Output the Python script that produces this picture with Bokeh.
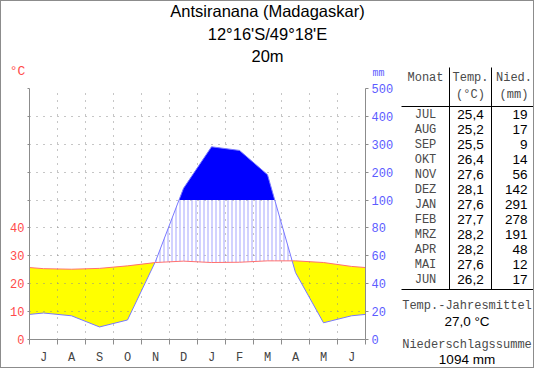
from bokeh.plotting import figure
from bokeh.layouts import row, column
from bokeh.models import Range1d, LinearAxis, FixedTicker
from bokeh.embed import file_html
from bokeh.resources import INLINE
from bokeh.core.properties import value

# ---------------- data ----------------
title_lines = ["Antsiranana (Madagaskar)", "12°16'S/49°18'E", "20m"]
months = ["JUL", "AUG", "SEP", "OKT", "NOV", "DEZ", "JAN", "FEB", "MRZ", "APR", "MAI", "JUN"]
month_letters = ["J", "A", "S", "O", "N", "D", "J", "F", "M", "A", "M", "J"]
temps = [25.4, 25.2, 25.5, 26.4, 27.6, 28.1, 27.6, 27.7, 28.2, 28.2, 27.6, 26.2]
precip = [19, 17, 9, 14, 56, 142, 291, 278, 191, 48, 12, 17]
temp_tick_labels = [0, 10, 20, 30, 40]
precip_tick_labels = [0, 20, 40, 60, 80, 100, 200, 300, 400, 500]

MONO = value("Liberation Mono")
SANS = value("Liberation Sans")
RED = "#ff4a4a"
BLUEL = "#5c5cff"
MONO_COLOR = "#4a4a4a"
GRAY = "#8c8c8c"


def scale_p(v):
    # Walter-Lieth: 20 mm = 10 degC up to 100 mm, above that 100 mm = 10 degC
    return v / 2.0 if v <= 100 else 50.0 + (v - 100) / 10.0


# extended (wrap-around) series, month centres at i+0.5
xs = [-0.5] + [i + 0.5 for i in range(12)] + [12.5]
t_ext = [temps[-1]] + temps + [temps[0]]
p_ext = [scale_p(v) for v in [precip[-1]] + precip + [precip[0]]]
LEVEL = scale_p(100)


def augment(x, a, b, level):
    X, A, B = [x[0]], [a[0]], [b[0]]
    for i in range(len(x) - 1):
        x0, x1, a0, a1, b0, b1 = x[i], x[i + 1], a[i], a[i + 1], b[i], b[i + 1]
        ts = []
        d0, d1 = a0 - b0, a1 - b1
        if d0 * d1 < 0:
            ts.append(d0 / (d0 - d1))
        e0, e1 = b0 - level, b1 - level
        if e0 * e1 < 0:
            ts.append(e0 / (e0 - e1))
        for t in sorted(ts):
            X.append(x0 + t * (x1 - x0))
            A.append(a0 + t * (a1 - a0))
            B.append(b0 + t * (b1 - b0))
        X.append(x1)
        A.append(a1)
        B.append(b1)
    return X, A, B


X, A, B = augment(xs, t_ext, p_ext, LEVEL)
arid_low = [min(a, b) for a, b in zip(A, B)]
humid_top = [max(a, min(b, LEVEL)) for a, b in zip(A, B)]
wet_top = [max(b, LEVEL) for b in B]
level_line = [LEVEL] * len(X)


def blank_fig(w, h):
    f = figure(width=w, height=h, x_range=Range1d(0, w), y_range=Range1d(h, 0),
               toolbar_location=None, output_backend="svg", min_border=0,
               x_axis_location=None, y_axis_location=None)
    f.grid.visible = False
    f.outline_line_color = None
    return f


# ---------------- title figure ----------------
tf = blank_fig(397, 80)
tf.text(x=[266, 266, 266], y=[9, 32, 54], text=title_lines, text_align="center",
        text_baseline="middle", text_font=SANS, text_font_size="16.5px", text_color="black")
tf.text(x=[16], y=[70], text=["°C"], text_align="center", text_baseline="middle",
        text_font=MONO, text_font_size="13px", text_color=RED)
tf.text(x=[377], y=[72], text=["mm"], text_align="center", text_baseline="middle",
        text_font=MONO, text_font_size="10px", text_color=BLUEL)

# ---------------- chart figure ----------------
p = figure(width=397, height=286, x_range=Range1d(0, 12), y_range=Range1d(0, 90),
           toolbar_location=None, output_backend="svg",
           min_border_left=28, min_border_right=33, min_border_top=7, min_border_bottom=25)
p.outline_line_color = None

# arid (yellow)
yel = p.varea(x=X, y1=arid_low, y2=A, fill_color="#ffff00", fill_alpha=1.0)
yel.level = "image"
# humid (vertical hatch)
p.varea(x=X, y1=A, y2=humid_top, fill_alpha=0.0, hatch_pattern="|",
        hatch_color="#a5a5ff", hatch_scale=4, hatch_weight=1, hatch_alpha=1.0)
# perhumid (solid blue)
p.varea(x=X, y1=level_line, y2=wet_top, fill_color="#0000ff", fill_alpha=1.0)
# curves
p.line(x=X, y=B, line_color="#7878ff", line_width=1)
p.line(x=X, y=A, line_color="#ff7070", line_width=1)

# grids
p.xgrid.ticker = FixedTicker(ticks=list(range(1, 12)))
p.ygrid.ticker = FixedTicker(ticks=list(range(10, 91, 10)))
for g in (p.xgrid[0], p.ygrid[0]):
    g.grid_line_color = GRAY
    g.grid_line_dash = "1 6"
    g.grid_line_width = 1

# bottom axis: month letters
xa = p.xaxis[0]
xa.ticker = FixedTicker(ticks=[i + 0.5 for i in range(12)], minor_ticks=list(range(13)))
xa.major_label_overrides = {i + 0.5: m for i, m in enumerate(month_letters)}
xa.major_tick_out = 0
xa.major_tick_in = 0
xa.minor_tick_out = 5
xa.minor_tick_in = 0
xa.minor_tick_line_color = GRAY
xa.axis_line_color = GRAY
xa.major_label_text_font = "Liberation Mono"
xa.major_label_text_font_size = "12px"
xa.major_label_text_color = "#444444"
xa.major_label_standoff = 6

# left axis: temperature
ya = p.yaxis[0]
ticks_left = list(range(0, 91, 10))
ya.ticker = FixedTicker(ticks=ticks_left, minor_ticks=[])
ya.major_label_overrides = {t: (str(t) if t in temp_tick_labels else "") for t in ticks_left}
ya.major_tick_out = 2
ya.major_tick_in = 0
ya.major_tick_line_color = GRAY
ya.axis_line_color = GRAY
ya.major_label_text_font = "Liberation Mono"
ya.major_label_text_font_size = "12px"
ya.major_label_text_color = RED
ya.major_label_standoff = 3

# right axis: precipitation
rticks = [int(round(scale_p(v))) for v in precip_tick_labels]
ra = LinearAxis(ticker=FixedTicker(ticks=rticks, minor_ticks=[]),
                major_label_overrides={t: str(v) for t, v in zip(rticks, precip_tick_labels)})
ra.major_tick_out = 3
ra.major_tick_in = 0
ra.major_tick_line_color = GRAY
ra.axis_line_color = GRAY
ra.major_label_text_font = "Liberation Mono"
ra.major_label_text_font_size = "12px"
ra.major_label_text_color = BLUEL
ra.major_label_standoff = 3
p.add_layout(ra, "right")

# ---------------- table figure ----------------
tb = blank_fig(135, 366)

row0, dy = 113.3, 15.0
ys = [row0 + i * dy for i in range(12)]
C_MON, C_T, C_P, R_P, C_ALL = 27, 72, 115.5, 129, 68.5
tb.segment(x0=[51, 93, 3, 3], y0=[66, 66, 105, 288], x1=[51, 93, 135, 135], y1=[288, 288, 105, 288],
           line_color="black", line_width=1)
tb.text(x=[C_MON, C_T, C_P], y=[76, 76, 76], text=["Monat", "Temp.", "Nied."], text_align="center",
        text_baseline="middle", text_font=MONO, text_font_size="12px", text_color=MONO_COLOR)
tb.text(x=[C_T, C_P], y=[93, 93], text=["(°C)", "(mm)"], text_align="center",
        text_baseline="middle", text_font=MONO, text_font_size="12px", text_color=MONO_COLOR)
tb.text(x=[C_MON] * 12, y=ys, text=months, text_align="center", text_baseline="middle",
        text_font=MONO, text_font_size="12px", text_color=MONO_COLOR)
tb.text(x=[C_T] * 12, y=ys, text=[f"{t:.1f}".replace(".", ",") for t in temps], text_align="center",
        text_baseline="middle", text_font=SANS, text_font_size="13.5px", text_color="black")
tb.text(x=[R_P] * 12, y=ys, text=[str(v) for v in precip], text_align="right", text_baseline="middle",
        text_font=SANS, text_font_size="13.5px", text_color="black")

mean_t = sum(temps) / len(temps)
total_p = sum(precip)
tb.text(x=[C_ALL, C_ALL], y=[304, 343], text=["Temp.-Jahresmittel", "Niederschlagssumme"], text_align="center",
        text_baseline="middle", text_font=MONO, text_font_size="12px", text_color=MONO_COLOR)
tb.text(x=[C_ALL, C_ALL], y=[320, 358], text=[f"{mean_t:.1f}".replace(".", ",") + " °C", f"{total_p} mm"],
        text_align="center", text_baseline="middle", text_font=SANS, text_font_size="13.5px",
        text_color="black")

# nest each figure in its own column so that frame borders are not aligned with each other
layout = row(column(column(tf), column(p)), column(tb), styles={"border": "1px solid #8c8c8c"})

open("out.html", "w").write(file_html(layout, INLINE))
